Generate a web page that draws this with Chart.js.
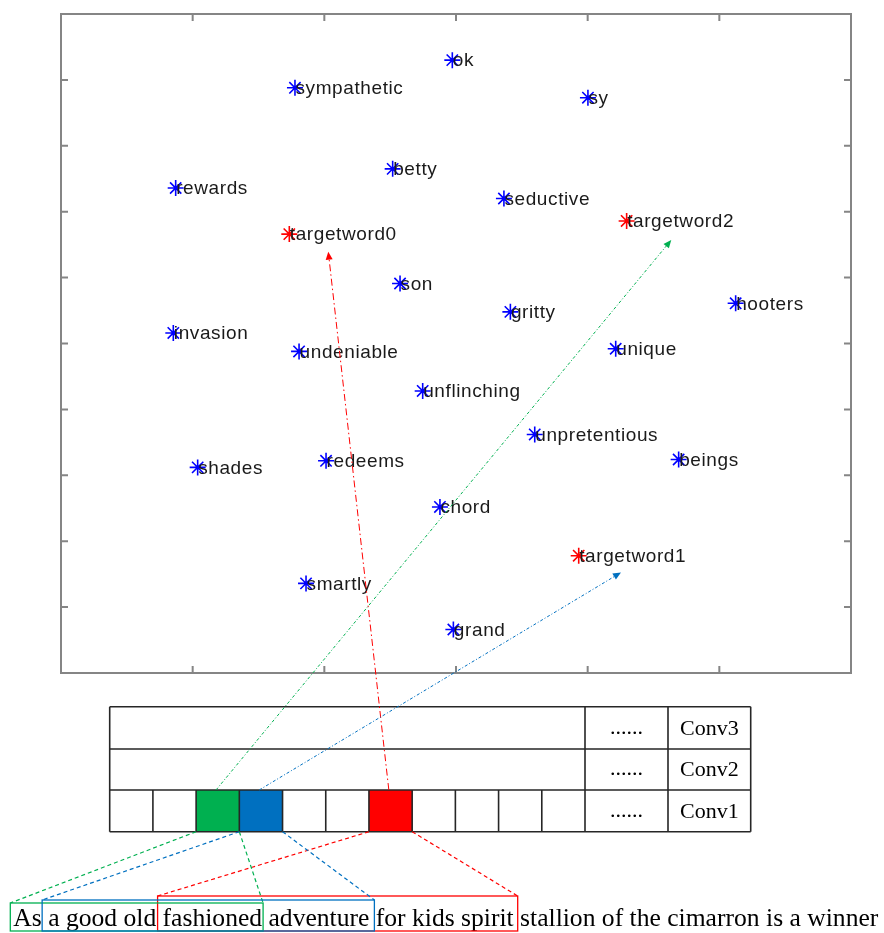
<!DOCTYPE html>
<html><head><meta charset="utf-8">
<script src="https://cdn.jsdelivr.net/npm/chart.js@4.4.1/dist/chart.umd.min.js"></script>
<style>html,body{margin:0;padding:0;background:#fff;overflow:hidden}canvas{display:block}</style>
</head><body>
<canvas id="c" width="884" height="933" style="width:884px;height:933px"></canvas>
<script>
// ---- data ----
const xTicks = [0, 10, 20, 30, 40, 50, 60];
const yTicks = [0, 10, 20, 30, 40, 50, 60, 70, 80, 90, 100];

const words = ['ok','sympathetic','sy','betty','rewards','seductive','son','gritty','hooters','invasion',
  'undeniable','unique','unflinching','unpretentious','beings','shades','redeems','chord','smartly','grand'];
const wordX = [29.72, 17.77, 40.02, 25.19, 8.71, 33.64, 25.75, 34.13, 51.24, 8.53,
  18.08, 42.13, 27.47, 35.98, 46.91, 10.38, 20.13, 28.78, 18.61, 29.80];
const wordY = [93.0, 88.8, 87.3, 76.5, 73.6, 72.0, 59.1, 54.8, 56.1, 51.6,
  48.8, 49.2, 42.8, 36.2, 32.4, 31.2, 32.2, 25.2, 13.6, 6.6];

const targets = ['targetword0', 'targetword1', 'targetword2'];
const targetX = [17.34, 39.32, 42.96];
const targetY = [66.6, 17.8, 68.6];

// arrow tips (data units) for each target
const arrowTipX = [20.30, 42.53, 46.35];
const arrowTipY = [63.93, 15.25, 65.71];

const sentence = ['As','a','good','old','fashioned','adventure','for','kids','spirit','stallion','of','the','cimarron','is','a','winner'];
const convLayers = ['Conv3', 'Conv2', 'Conv1'];
const convDots = '......';
const conv1CellCount = 11;

// links: conv1 cell -> target word, and cell -> span of sentence words
const linkTarget   = [0, 2, 1];
const linkCell     = [6, 2, 3];
const linkSpanFrom = [4, 0, 1];
const linkSpanTo   = [8, 4, 5];

// ---- styles / layout ----
const linkColors = ['#FF0000', '#00B050', '#0070C0'];
const linkDash   = [[7,3,1.5,3], [3,2,1,2], [3,2,1,2]];
const boxTop  = [896, 903, 900];
const boxPadL = [5, 3, 6];
const boxPadR = [4, 1, 5];
const T = { left: 109.7, right: 750.7, rows: [706.7, 749, 790, 831.7], mainRight: 585, dotsRight: 668 };
const SENT = { x: 13.3, base: 926, font: '25.6px "Liberation Serif", "Times New Roman", serif' };

const overlay = {
  id: 'overlay',
  afterDatasetsDraw(chart) {
    const ctx = chart.ctx;
    const xs = chart.scales.x, ys = chart.scales.y;
    const ca = chart.chartArea;
    ctx.save();
    // frame
    ctx.strokeStyle = '#858585';
    ctx.lineWidth = 2;
    ctx.strokeRect(ca.left, ca.top, ca.right - ca.left, ca.bottom - ca.top);
    const tl = 7;
    ctx.beginPath();
    xTicks.slice(1, -1).forEach(v => {
      const px = xs.getPixelForValue(v);
      ctx.moveTo(px, ca.bottom); ctx.lineTo(px, ca.bottom - tl);
      ctx.moveTo(px, ca.top); ctx.lineTo(px, ca.top + tl);
    });
    yTicks.slice(1, -1).forEach(v => {
      const py = ys.getPixelForValue(v);
      ctx.moveTo(ca.left, py); ctx.lineTo(ca.left + tl, py);
      ctx.moveTo(ca.right, py); ctx.lineTo(ca.right - tl, py);
    });
    ctx.stroke();

    // labels
    ctx.font = '19px "Liberation Sans", Arial, sans-serif';
    try { ctx.letterSpacing = '0.6px'; } catch (e) {}
    ctx.fillStyle = '#1a1a1a';
    ctx.textAlign = 'left';
    ctx.textBaseline = 'middle';
    chart.data.datasets.forEach((ds, di) => {
      const meta = chart.getDatasetMeta(di);
      meta.data.forEach((pt, i) => {
        ctx.fillText(ds.labels[i], pt.x + 0.5, pt.y + 1);
      });
    });
    try { ctx.letterSpacing = '0px'; } catch (e) {}

    // table
    const cellW = (T.mainRight - T.left) / conv1CellCount;
    const r = T.rows;
    linkCell.forEach((c, k) => {
      ctx.fillStyle = linkColors[k];
      ctx.fillRect(T.left + c * cellW, r[2], cellW, r[3] - r[2]);
    });
    ctx.strokeStyle = '#262626';
    ctx.lineWidth = 1.6;
    ctx.beginPath();
    r.forEach(y => { ctx.moveTo(T.left, y); ctx.lineTo(T.right, y); });
    ctx.moveTo(T.left, r[0]); ctx.lineTo(T.left, r[3]);
    ctx.moveTo(T.right, r[0]); ctx.lineTo(T.right, r[3]);
    ctx.moveTo(T.mainRight, r[0]); ctx.lineTo(T.mainRight, r[3]);
    ctx.moveTo(T.dotsRight, r[0]); ctx.lineTo(T.dotsRight, r[3]);
    for (let i = 1; i < conv1CellCount; i++) {
      const x = T.left + i * cellW;
      ctx.moveTo(x, r[2]); ctx.lineTo(x, r[3]);
    }
    ctx.stroke();
    ctx.fillStyle = '#000';
    ctx.font = '22px "Liberation Serif", "Times New Roman", serif';
    ctx.textAlign = 'center';
    ctx.textBaseline = 'middle';
    convLayers.forEach((name, i) => {
      const cy = (r[i] + r[i + 1]) / 2;
      ctx.fillText(convDots, (T.mainRight + T.dotsRight) / 2, cy);
      ctx.fillText(name, (T.dotsRight + T.right) / 2, cy + 1);
    });

    // sentence
    ctx.font = SENT.font;
    ctx.textAlign = 'left';
    ctx.textBaseline = 'alphabetic';
    const starts = [], ends = [];
    let x = SENT.x;
    const sp = ctx.measureText(' ').width;
    sentence.forEach(w => {
      const wd = ctx.measureText(w).width;
      starts.push(x); ends.push(x + wd);
      ctx.fillText(w, x, SENT.base);
      x += wd + sp;
    });

    // boxes + dashed connectors to conv1 cells
    linkCell.forEach((c, k) => {
      const bl = starts[linkSpanFrom[k]] - boxPadL[k];
      const br = ends[linkSpanTo[k]] + boxPadR[k];
      const bt = boxTop[k];
      ctx.strokeStyle = linkColors[k];
      ctx.lineWidth = 1.3;
      ctx.setLineDash([]);
      ctx.strokeRect(bl, bt, br - bl, 931 - bt);
      ctx.lineWidth = 1.2;
      ctx.setLineDash([4, 3]);
      ctx.beginPath();
      const cl = T.left + c * cellW, cr = cl + cellW;
      ctx.moveTo(cl, r[3]); ctx.lineTo(bl, bt);
      ctx.moveTo(cr, r[3]); ctx.lineTo(br, bt);
      ctx.stroke();
    });

    // arrows from conv1 cells to target words
    linkCell.forEach((c, k) => {
      const t = linkTarget[k];
      const sx = T.left + (c + 0.46) * cellW, sy = r[2];
      const ex = xs.getPixelForValue(arrowTipX[t]), ey = ys.getPixelForValue(arrowTipY[t]);
      ctx.strokeStyle = linkColors[k];
      ctx.fillStyle = linkColors[k];
      ctx.lineWidth = 1;
      ctx.setLineDash(linkDash[k]);
      const ang = Math.atan2(ey - sy, ex - sx);
      const hl = 8, hw = 3.5;
      const bx = ex - hl * Math.cos(ang), by = ey - hl * Math.sin(ang);
      ctx.beginPath();
      ctx.moveTo(sx, sy); ctx.lineTo(bx, by);
      ctx.stroke();
      ctx.setLineDash([]);
      ctx.beginPath();
      ctx.moveTo(ex, ey);
      ctx.lineTo(bx + hw * Math.sin(ang), by - hw * Math.cos(ang));
      ctx.lineTo(bx - hw * Math.sin(ang), by + hw * Math.cos(ang));
      ctx.closePath();
      ctx.fill();
    });
    ctx.restore();
  }
};

const toPts = (xa, ya) => xa.map((v, i) => ({ x: v, y: ya[i] }));

new Chart(document.getElementById('c'), {
  type: 'scatter',
  data: {
    datasets: [
      { labels: words, data: toPts(wordX, wordY), pointStyle: 'star', radius: 8,
        borderColor: '#0000FF', backgroundColor: '#0000FF', borderWidth: 1.6, hoverRadius: 8 },
      { labels: targets, data: toPts(targetX, targetY), pointStyle: 'star', radius: 8,
        borderColor: '#FF0000', backgroundColor: '#FF0000', borderWidth: 1.6, hoverRadius: 8 }
    ]
  },
  options: {
    responsive: false,
    animation: false,
    events: [],
    layout: { padding: { left: 61, top: 14, right: 33, bottom: 260 } },
    scales: {
      x: { type: 'linear', min: 0, max: 60, display: false },
      y: { type: 'linear', min: 0, max: 100, display: false }
    },
    plugins: { legend: { display: false }, tooltip: { enabled: false } }
  },
  plugins: [overlay]
});
</script>
</body></html>
